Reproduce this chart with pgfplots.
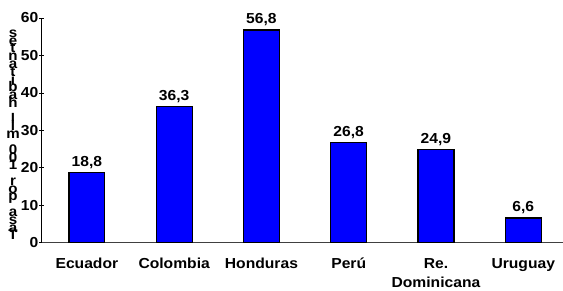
\documentclass[border=0pt]{standalone}
\usepackage{fontspec}
\setmainfont{Liberation Sans}[FakeStretch=1.08]
\usepackage{pgfplots}
\pgfplotsset{compat=1.18}
\definecolor{barblue}{RGB}{0,0,255}
\newcommand{\stackfont}{\bfseries\fontsize{14}{7.8}\selectfont\lineskiplimit=-100pt\relax\lineskip=0pt\relax}
\begin{document}
\begin{tikzpicture}[x=1pt,y=1pt]
\begin{axis}[
  at={(0,0)}, anchor=south west,
  scale only axis, width=521pt, height=225pt,
  xmin=-0.515, xmax=5.45, ymin=0, ymax=60,
  axis lines*=left,
  x axis line style={draw=black!75, line width=1pt},
  y axis line style={draw=black, line width=1pt},
  ytick={0,10,...,60},
  xtick={0,...,5},
  xticklabels={Ecuador,Colombia,Honduras,Perú,{Re.\\Dominicana},Uruguay},
  x tick style={draw=none},
  y tick style={draw=black, line width=0.8pt},
  tick align=center, major tick length=5pt,
  /pgf/number format/assume math mode=true,
  x tick label style={align=center, anchor=north, yshift=-7pt, font=\bfseries\fontsize{14.5}{19}\selectfont},
  y tick label style={inner sep=1pt, font=\bfseries\fontsize{14.5}{16}\selectfont},
  ybar, bar width=36pt,
  point meta=explicit symbolic,
  nodes near coords,
  nodes near coords style={font=\bfseries\fontsize{14.5}{16}\selectfont, text=black},
  clip=false,
]
\addplot[fill=barblue, draw=black, line width=1.2pt] coordinates {
  (0,18.8) [18,8]
  (1,36.3) [36,3]
  (2,56.8) [56,8]
  (3,26.8) [26,8]
  (4,24.9) [24,9]
  (5,6.6) [6,6]
};
\end{axis}
\node[align=center, inner sep=0pt, font=\stackfont]
  at (-29,108) {s\\e\\t\\n\\a\\t\\i\\b\\a\\h\\~\\l\\i\\m\\~\\0\\0\\1\\~\\r\\o\\p\\~\\a\\s\\a\\T};
\path[use as bounding box] (-42,-43) rectangle (521,243);
\end{tikzpicture}
\end{document}
